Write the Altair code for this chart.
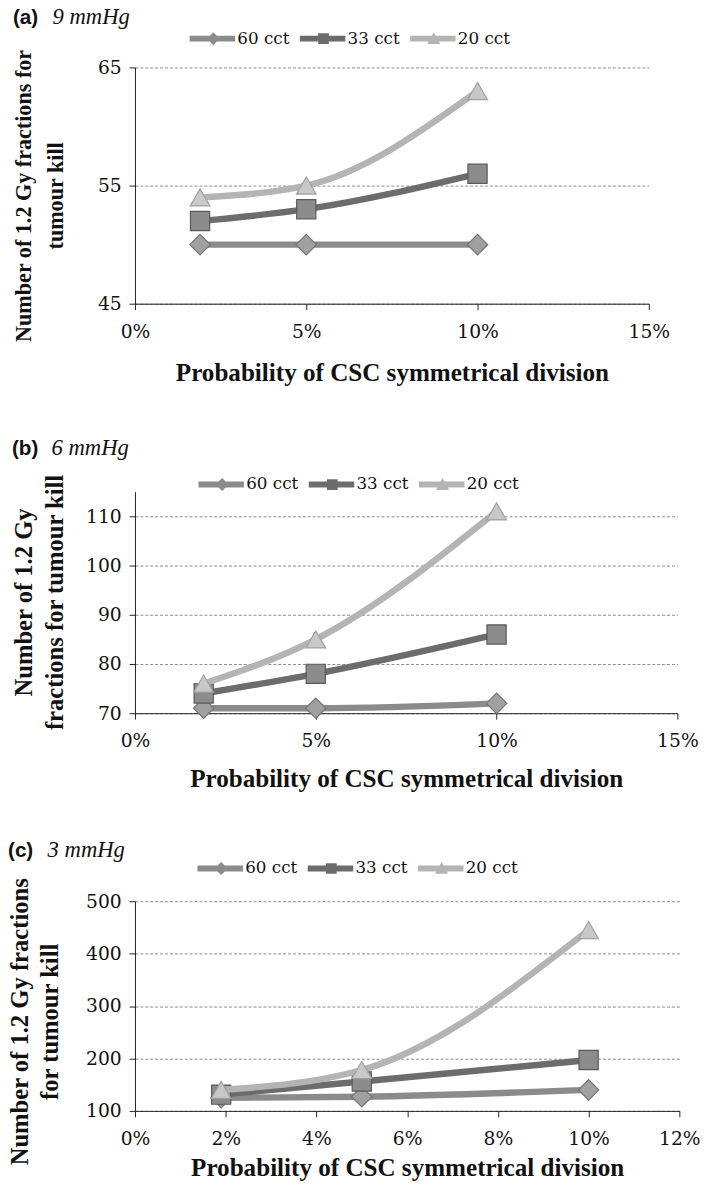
import altair as alt
import pandas as pd

# ---------------- data ----------------
series = ["60 cct", "33 cct", "20 cct"]
prob = [0.019, 0.05, 0.10]

a_60 = [50, 50, 50]
a_33 = [52, 53, 56]
a_20 = [54, 55, 63]

b_60 = [71, 71, 72]
b_33 = [74, 78, 86]
b_20 = [76, 85, 111]

c_60 = [125, 127, 140]
c_33 = [131, 156, 197]
c_20 = [140, 178, 445]

letters = ["(a)", "(b)", "(c)"]
pressures = ["9 mmHg", "6 mmHg", "3 mmHg"]
y_titles = [
    ["Number of 1.2 Gy fractions for", "tumour kill"],
    ["Number of 1.2 Gy", "fractions for tumour kill"],
    ["Number of 1.2 Gy fractions", "for tumour kill"],
]
y_ticks = [[45, 55, 65], [70, 80, 90, 100, 110], [100, 200, 300, 400, 500]]
y_domains = [[45, 65], [70, 115], [100, 500]]
x_ticks = [
    [0, 0.05, 0.10, 0.15],
    [0, 0.05, 0.10, 0.15],
    [0, 0.02, 0.04, 0.06, 0.08, 0.10, 0.12],
]
x_title = "Probability of CSC symmetrical division"

# ---------------- styling ----------------
line_colors = ["#8b8b8b", "#6c6c6c", "#b4b4b4"]
marker_fill = ["#a0a0a0", "#8c8c8c", "#c8c8c8"]
marker_stroke = ["#747474", "#5a5a5a", "#a0a0a0"]
marker_shape = ["diamond", "square", "triangle-up"]
marker_size = [430, 380, 400]
legend_paths = [
    "M-1,-0.5 L2.4,-0.5 L3,-1.1 L3.6,-0.5 L6.7,-0.5 L6.7,0.5 L3.6,0.5 L3,1.1 L2.4,0.5 L-1,0.5 Z",
    "M-1,-0.5 L2.1,-0.5 L2.1,-0.9 L3.9,-0.9 L3.9,-0.5 L6.7,-0.5 L6.7,0.5 L3.9,0.5 L3.9,0.9 L2.1,0.9 L2.1,0.5 L-1,0.5 Z",
    "M-1,-0.5 L2.67,-0.5 L3,-1.1 L3.33,-0.5 L6.7,-0.5 L6.7,0.5 L3.88,0.5 L4.1,0.9 L1.9,0.9 L2.12,0.5 L-1,0.5 Z",
]

TICK_FONT = "DejaVu Serif"
TITLE_FONT = "Liberation Serif"
INK = "#111111"


def make_panel(k, vals, width, height, legend_x, legend_y,
               ytitle_x, ytitle_y, ytitle_size, ytitle_lh, title_offset,
               xlabel_pad, xtitle_pad):
    df = pd.DataFrame({
        "prob": prob * 3,
        "fractions": vals[0] + vals[1] + vals[2],
        "series": [s for s in series for _ in prob],
    })
    x = alt.X(
        "prob:Q",
        scale=alt.Scale(domain=[x_ticks[k][0], x_ticks[k][-1]], nice=False),
        axis=alt.Axis(
            values=x_ticks[k], format=".0%", grid=False,
            domainColor="#222222", tickColor="#222222", tickSize=6,
            labelFont=TICK_FONT, labelFontSize=19, labelColor=INK,
            labelPadding=xlabel_pad, labelFlush=False, labelOverlap=False,
            title=x_title, titleFont=TITLE_FONT, titleFontSize=25.5,
            titleFontWeight="bold", titleColor=INK, titlePadding=xtitle_pad,
        ),
    )
    y = alt.Y(
        "fractions:Q",
        scale=alt.Scale(domain=y_domains[k], nice=False, zero=False),
        axis=alt.Axis(
            values=y_ticks[k], grid=True, gridDash=[3, 2], gridColor="#8a8a8a",
            gridWidth=1, domainColor="#222222", tickColor="#222222", tickSize=6,
            labelFont=TICK_FONT, labelFontSize=19, labelColor=INK, labelPadding=8,
            title=y_titles[k], titleFont=TITLE_FONT, titleFontSize=ytitle_size,
            titleFontWeight="bold", titleColor=INK, titleLineHeight=ytitle_lh,
            titleX=ytitle_x, titleY=ytitle_y,
        ),
    )
    base = alt.Chart(df).encode(x=x, y=y)
    layers = []
    for j, s in enumerate(series):
        sub = base.transform_filter(alt.datum.series == s)
        layers.append(sub.mark_line(color=line_colors[j], strokeWidth=6.5,
                                    interpolate="monotone"))
        layers.append(sub.mark_point(shape=marker_shape[j], filled=True,
                                     fill=marker_fill[j], stroke=marker_stroke[j],
                                     strokeWidth=1.2, size=marker_size[j], opacity=1))
    leg = alt.Legend(
        orient="none", legendX=legend_x, legendY=legend_y, direction="horizontal",
        title=None, symbolSize=144, symbolStrokeWidth=0, symbolOpacity=1,
        labelFont=TICK_FONT, labelFontSize=17, labelColor=INK, labelOffset=34,
        columnPadding=8, padding=0,
    )
    legend_layer = base.transform_filter("false").mark_point(filled=True).encode(
        fill=alt.Fill("series:N", scale=alt.Scale(domain=series, range=line_colors), legend=leg),
        shape=alt.Shape("series:N", scale=alt.Scale(domain=series, range=legend_paths), legend=leg),
    )
    layers.append(legend_layer)
    title = alt.TitleParams(
        text=letters[k],
        subtitle="\u200b" + "\u00a0" * 7 + pressures[k],
        anchor="start", frame="bounds", orient="top",
        font="Liberation Sans", fontSize=21, fontWeight="bold", color=INK,
        subtitleFont=TITLE_FONT, subtitleFontSize=23, subtitleFontStyle="italic",
        subtitleColor=INK, subtitlePadding=-22, offset=title_offset,
    )
    return alt.layer(*layers).properties(width=width, height=height, title=title)


pa = make_panel(0, [a_60, a_33, a_20], 522, 240, 53, -38, -101, 130, 22.5, 32, 0, 13, 20)
pb = make_panel(1, [b_60, b_33, b_20], 551, 225, 62, -16, -100, 112, 25, 31, 13, 13, 16)
pc = make_panel(2, [c_60, c_33, c_20], 553, 213, 61, -42, -104, 122, 25, 30, -3, 13, 8)

chart = (
    alt.vconcat(pa, pb, pc, spacing=191, bounds="flush")
    .resolve_scale(fill="independent", shape="independent")
    .properties(padding={"left": 0, "top": -11, "right": 0, "bottom": 0})
    .configure_view(stroke=None)
)

chart.save("out.html", embed_options={"renderer": "svg", "actions": False})
